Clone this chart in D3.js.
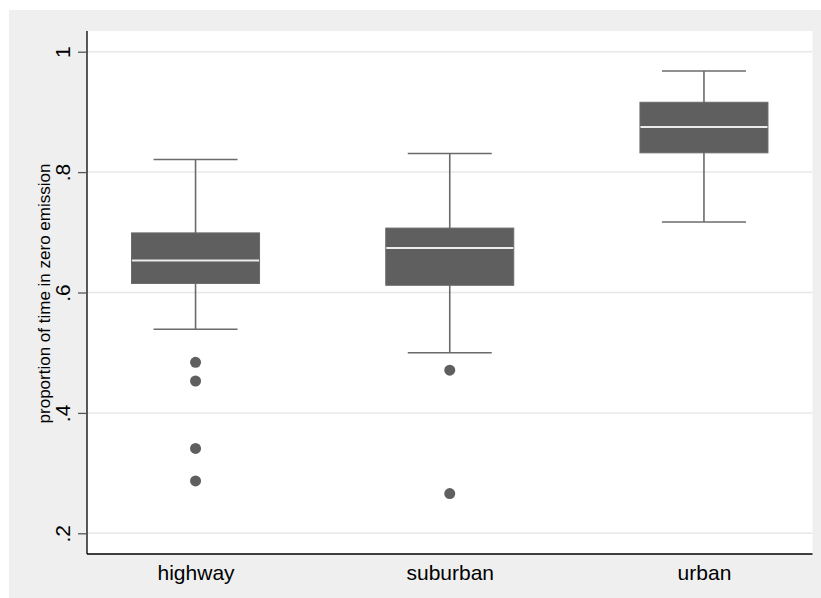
<!DOCTYPE html>
<html>
<head>
<meta charset="utf-8">
<script src="https://cdn.jsdelivr.net/npm/d3@7"></script>
<style>
  html, body { margin: 0; padding: 0; background: #fff; }
  svg { display: block; font-family: "Liberation Sans", Arial, Helvetica, sans-serif; }
</style>
</head>
<body>
<svg id="chart" width="821" height="598"></svg>
<script>
// box plot data
const categories = ["highway", "suburban", "urban"];
const whiskerLow  = [0.539, 0.500, 0.717];
const q1          = [0.615, 0.612, 0.832];
const medians     = [0.653, 0.674, 0.875];
const q3          = [0.699, 0.707, 0.916];
const whiskerHigh = [0.821, 0.831, 0.968];
const outliers = [
  ["highway", 0.484], ["highway", 0.453], ["highway", 0.341], ["highway", 0.287],
  ["suburban", 0.471], ["suburban", 0.266]
];
const yTicks = [0.2, 0.4, 0.6, 0.8, 1];
const yTitle = "proportion of time in zero emission";

const W = 821, H = 598;
const plot = { left: 87, right: 812.5, top: 31, bottom: 554 };
const BOX_HALF = 64, CAP_HALF = 42;
const DARK = "#5f5f5f";

const svg = d3.select("#chart");

// outer gray panel and white plot region
svg.append("rect").attr("x", 9).attr("y", 10).attr("width", W - 9).attr("height", H - 10).attr("fill", "#efefef");
svg.append("rect").attr("x", plot.left).attr("y", plot.top)
  .attr("width", plot.right - plot.left).attr("height", plot.bottom - plot.top).attr("fill", "#fff");

const x = d3.scalePoint().domain(categories).range([plot.left, plot.right]).padding(0.427);
const y = d3.scaleLinear().domain([0.2, 1]).range([533.3, 51.7]);

// gridlines
svg.append("g").selectAll("line").data(yTicks).join("line")
  .attr("x1", plot.left).attr("x2", plot.right)
  .attr("y1", d => y(d)).attr("y2", d => y(d))
  .attr("stroke", "#e8e8e8").attr("stroke-width", 1.5);

// y axis
const fmt = d => d === 1 ? "1" : String(d).replace(/^0/, "");
const yAxis = svg.append("g").attr("transform", `translate(${plot.left},0)`)
  .call(d3.axisLeft(y).tickValues(yTicks).tickFormat(fmt).tickSize(9).tickPadding(8));
yAxis.select(".domain").attr("d", `M0,${plot.top}V${plot.bottom}`).attr("stroke", "#000").attr("stroke-width", 1.3);
yAxis.selectAll(".tick line").attr("stroke", "#555").attr("stroke-width", 1.3);
yAxis.selectAll(".tick text")
  .attr("font-size", 21).attr("fill", "#000")
  .attr("text-anchor", "middle")
  .attr("transform", "rotate(-90)")
  .attr("x", 0).attr("y", -17).attr("dy", 0);

// x axis
const xAxis = svg.append("g").attr("transform", `translate(0,${plot.bottom})`)
  .call(d3.axisBottom(x).tickSize(0).tickPadding(9));
xAxis.select(".domain").attr("d", `M${plot.left},0H${plot.right}`).attr("stroke", "#000").attr("stroke-width", 1.3);
xAxis.selectAll(".tick text").attr("font-size", 21).attr("fill", "#000").attr("dy", "0.8em");

// y title
svg.append("text")
  .attr("transform", `translate(50,${(plot.top + plot.bottom) / 2 + 1}) rotate(-90)`)
  .attr("text-anchor", "middle").attr("font-size", 17).attr("fill", "#000")
  .text(yTitle);

// boxes
const boxes = categories.map((c, i) => ({
  c, lo: whiskerLow[i], q1: q1[i], med: medians[i], q3: q3[i], hi: whiskerHigh[i]
}));
const g = svg.append("g");
const bx = g.selectAll("g.box").data(boxes).join("g").attr("class", "box");

bx.append("line")
  .attr("x1", d => x(d.c)).attr("x2", d => x(d.c))
  .attr("y1", d => y(d.hi)).attr("y2", d => y(d.lo))
  .attr("stroke", "#6b6b6b").attr("stroke-width", 1.6);
bx.selectAll("line.cap").data(d => [[d.c, d.hi], [d.c, d.lo]]).join("line").attr("class", "cap")
  .attr("x1", d => x(d[0]) - CAP_HALF).attr("x2", d => x(d[0]) + CAP_HALF)
  .attr("y1", d => y(d[1])).attr("y2", d => y(d[1]))
  .attr("stroke", "#6b6b6b").attr("stroke-width", 1.6);
bx.append("rect")
  .attr("x", d => x(d.c) - BOX_HALF).attr("width", BOX_HALF * 2)
  .attr("y", d => y(d.q3)).attr("height", d => y(d.q1) - y(d.q3))
  .attr("fill", DARK).attr("stroke", "#6a6a6a").attr("stroke-width", 1);
bx.append("line")
  .attr("x1", d => x(d.c) - BOX_HALF + 0.5).attr("x2", d => x(d.c) + BOX_HALF - 0.5)
  .attr("y1", d => y(d.med)).attr("y2", d => y(d.med))
  .attr("stroke", "#ececec").attr("stroke-width", 2);

// outside values
g.selectAll("circle").data(outliers).join("circle")
  .attr("cx", d => x(d[0])).attr("cy", d => y(d[1])).attr("r", 5.5)
  .attr("fill", DARK);
</script>
</body>
</html>
